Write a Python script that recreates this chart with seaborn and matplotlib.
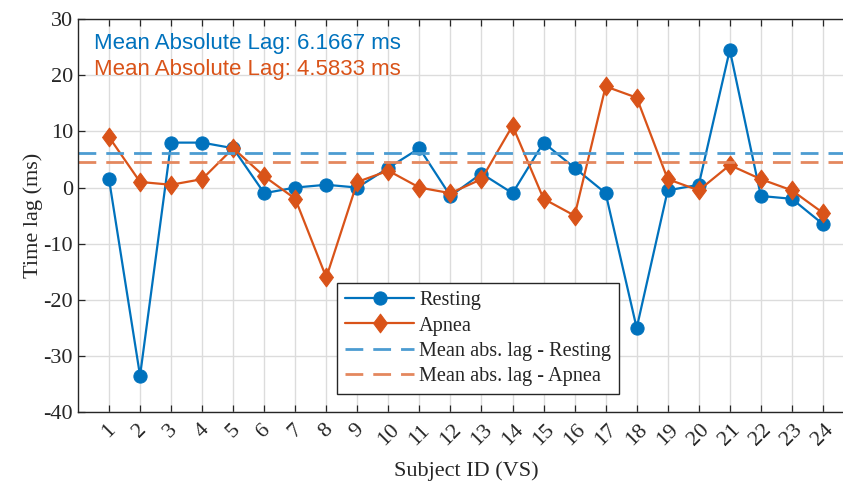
import matplotlib
matplotlib.use("Agg")
import matplotlib.pyplot as plt
from matplotlib.path import Path
import numpy as np
import pandas as pd
import seaborn as sns

subjects = list(range(1, 25))
resting = [1.5, -33.5, 8, 8, 7, -1, 0, 0.5, 0, 3.5, 7, -1.5,
           2.5, -1, 8, 3.5, -1, -25, -0.5, 0.5, 24.5, -1.5, -2, -6.5]
apnea = [9, 1, 0.5, 1.5, 7, 2, -2, -16, 1, 3, 0, -1,
         1.5, 11, -2, -5, 18, 16, 1.5, -0.5, 4, 1.5, -0.5, -4.5]
yticks = [30, 20, 10, 0, -10, -20, -30, -40]

blue = "#0072BD"
orange = "#D95319"
blue_light = "#4C9CD1"
orange_light = "#E4875E"

mean_rest = np.mean(np.abs(resting))
mean_apnea = np.mean(np.abs(apnea))

df = pd.DataFrame({"subject": subjects, "Resting": resting, "Apnea": apnea})

# MATLAB-like diamond (taller than wide)
diamond = Path([(0, 1), (0.74, 0), (0, -1), (-0.74, 0), (0, 1)],
               [Path.MOVETO, Path.LINETO, Path.LINETO, Path.LINETO, Path.CLOSEPOLY])

sns.set_style("ticks")
plt.rcParams["font.family"] = ["Liberation Serif", "DejaVu Serif"]
plt.rcParams["axes.unicode_minus"] = False
plt.rcParams["axes.edgecolor"] = "#262626"
plt.rcParams["xtick.color"] = "#262626"
plt.rcParams["ytick.color"] = "#262626"

fig = plt.figure(figsize=(8.43, 4.86), dpi=100)
ax = fig.add_axes([0.0925, 0.1516, 0.9205, 0.8093])

ax.set_xlim(0, 25)
ax.set_ylim(-40, 30)
ax.set_xticks(subjects)
ax.set_yticks(yticks)
ax.grid(True, color="#DCDCDC", linewidth=1.0)
ax.set_axisbelow(True)

sns.lineplot(data=df, x="subject", y="Resting", ax=ax, color=blue, linewidth=1.6,
             marker="o", markersize=9.5, markeredgecolor=blue, label="Resting")
sns.lineplot(data=df, x="subject", y="Apnea", ax=ax, color=orange, linewidth=1.6,
             marker=diamond, markersize=13.5, markeredgecolor=orange, label="Apnea")
ax.axhline(mean_rest, color=blue_light, linewidth=2, dashes=(6.4, 3.6),
           label="Mean abs. lag - Resting")
ax.axhline(mean_apnea, color=orange_light, linewidth=2, dashes=(6.4, 3.6),
           label="Mean abs. lag - Apnea")

ax.text(0.0206, 0.937, f"Mean Absolute Lag: {mean_rest:.4f} ms", transform=ax.transAxes,
        color=blue, fontsize=16, family=["Liberation Sans", "DejaVu Sans"], va="center")
ax.text(0.0206, 0.872, f"Mean Absolute Lag: {mean_apnea:.4f} ms", transform=ax.transAxes,
        color=orange, fontsize=16, family=["Liberation Sans", "DejaVu Sans"], va="center")

ax.set_xticklabels([str(s) for s in subjects], rotation=45, ha="center", fontsize=16)
ax.tick_params(axis="y", labelsize=16)
ax.tick_params(axis="x", pad=6)
ax.tick_params(direction="in", length=5, width=0.9, top=True, right=False)
ax.spines["right"].set_visible(False)
ax.set_xlabel("Subject ID (VS)", fontsize=16, labelpad=8)
ax.set_ylabel("Time lag (ms)", fontsize=16, labelpad=0)
for s in ax.spines.values():
    s.set_linewidth(1.0)

leg = ax.legend(loc="upper left", bbox_to_anchor=(0.334, 0.329), borderaxespad=0,
                fontsize=14.6, frameon=True, fancybox=False, framealpha=1,
                edgecolor="#262626", handlelength=3.4, handletextpad=0.25,
                labelspacing=0.3, borderpad=0.4)
leg.get_frame().set_linewidth(1.0)

fig.savefig("out.png", dpi=100)
